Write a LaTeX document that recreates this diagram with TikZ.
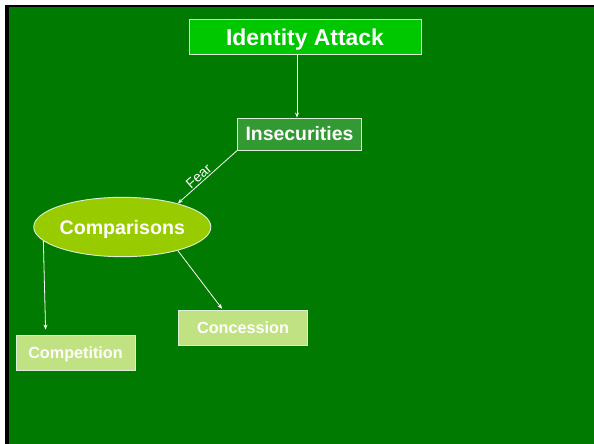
\documentclass[tikz,border=0pt]{standalone}
\usepackage{fontspec}
\setmainfont{Liberation Sans}
\usetikzlibrary{shapes.geometric,arrows.meta}
\definecolor{bggreen}{RGB}{0,122,0}
\definecolor{topgreen}{RGB}{0,200,0}
\definecolor{midgreen}{RGB}{51,153,51}
\definecolor{lime}{RGB}{153,204,0}
\definecolor{pale}{RGB}{192,226,130}
\definecolor{edgecol}{RGB}{220,240,215}
\begin{document}
\begin{tikzpicture}[x=1pt,y=-1pt,
  box/.style={rectangle,draw=edgecol,line width=0.9pt,inner sep=0pt,text=white,text depth=0pt},
  conn/.style={draw=white,line width=0.8pt,-{Stealth[length=5pt,width=4pt]}}]
\useasboundingbox (0,0) rectangle (594,444);
\fill[white] (0,0) rectangle (594,444);
\fill[black] (5,5) rectangle (594,444);
\fill[bggreen] (8.5,7.5) rectangle (594,444);

\node[box,fill=topgreen,minimum width=232pt,minimum height=35pt,text height=16.4pt,font=\fontsize{22.9}{26}\selectfont\bfseries] (ia) at (305,37) {Identity Attack};
\node[box,fill=midgreen,minimum width=123.6pt,minimum height=32pt,text height=13.9pt,font=\fontsize{19.4}{22}\selectfont\bfseries] (ins) at (299.5,134) {Insecurities};
\node[ellipse,draw=edgecol,line width=0.9pt,fill=lime,inner sep=0pt,minimum width=173.4pt,minimum height=59.4pt,text=white,text height=14pt,text depth=0pt,font=\fontsize{19.6}{22}\selectfont\bfseries] (cmp) at (122.3,227) {Comparisons};
\node[box,fill=pale,minimum width=119pt,minimum height=35pt,text height=11.6pt,font=\fontsize{16.2}{19}\selectfont\bfseries] (comp) at (75.5,352.5) {Competition};
\node[box,fill=pale,minimum width=128.3pt,minimum height=35.3pt,text height=11.6pt,font=\fontsize{16.2}{19}\selectfont\bfseries] (conc) at (243,327.7) {Concession};

\coordinate (xa) at (297,0);
\coordinate (xb) at (45.7,0);
\coordinate (xc) at (222.7,0);

\draw[conn] (ia.south -| xa) -- (ins.north -| xa);
\draw[conn] (ins.south west) -- node[sloped,above,text=white,font=\fontsize{14}{16}\selectfont,pos=0.58,inner sep=1pt] (fear) {Fear} (cmp.23);
\draw[conn,shorten >=5pt] (cmp.190) -- (comp.north -| xb);
\draw[conn,shorten >=1pt] (cmp.-23) -- (conc.north -| xc);
\end{tikzpicture}
\end{document}
